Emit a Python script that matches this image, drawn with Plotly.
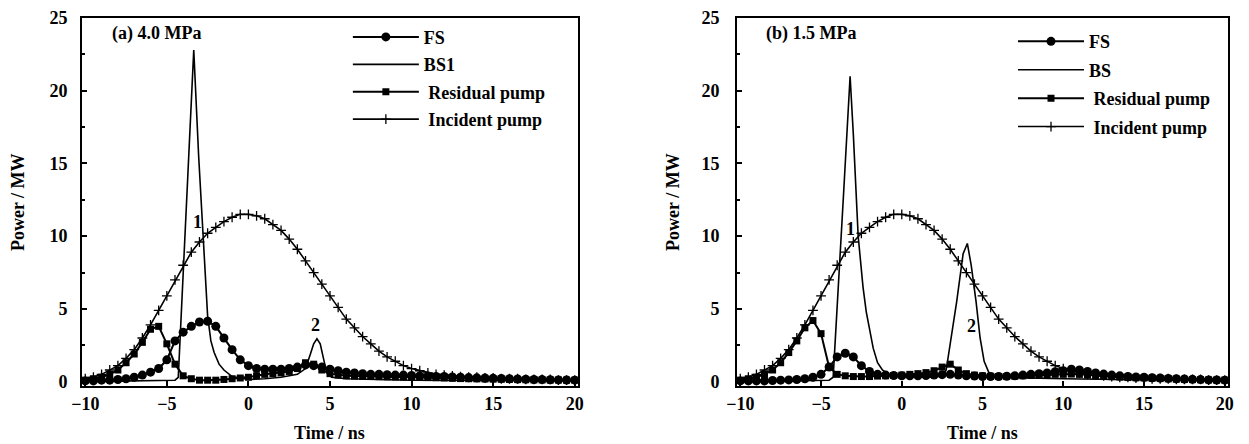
import plotly.graph_objects as go

# ---------------- data ----------------
time_grid = [k * 0.5 for k in range(-20, 41)]  # -10 ... 20 ns

incident_pump = [0.2, 0.3, 0.5, 0.8, 1.1, 1.6, 2.2, 3.0, 3.9, 4.9,
                 5.9, 7.0, 8.0, 8.9, 9.6, 10.2, 10.6, 11.0, 11.3, 11.5,
                 11.5, 11.4, 11.2, 10.8, 10.4, 9.8, 9.1, 8.3, 7.5, 6.7,
                 5.9, 5.1, 4.3, 3.7, 3.1, 2.6, 2.1, 1.7, 1.4, 1.1,
                 0.9, 0.75, 0.6, 0.5, 0.45, 0.4, 0.35, 0.3, 0.3, 0.25,
                 0.25, 0.2, 0.2, 0.2, 0.15, 0.15, 0.15, 0.15, 0.1, 0.1,
                 0.1]

fs_a = [0.05, 0.05, 0.1, 0.1, 0.15, 0.2, 0.3, 0.45, 0.65, 0.9,
        1.5, 2.8, 3.4, 3.8, 4.1, 4.15, 3.8, 3.0, 2.2, 1.5,
        1.1, 0.9, 0.85, 0.85, 0.85, 0.9, 1.0, 1.15, 1.1, 1.0,
        0.85, 0.75, 0.65, 0.6, 0.55, 0.5, 0.5, 0.48, 0.45, 0.45,
        0.42, 0.4, 0.38, 0.36, 0.35, 0.32, 0.3, 0.28, 0.26, 0.25,
        0.24, 0.22, 0.2, 0.18, 0.17, 0.15, 0.14, 0.13, 0.12, 0.11,
        0.1]

residual_a = [0.1, 0.2, 0.3, 0.5, 0.8, 1.3, 1.9, 2.7, 3.6, 3.8,
              2.6, 1.2, 0.4, 0.2, 0.1, 0.1, 0.1, 0.15, 0.2, 0.25,
              0.3, 0.4, 0.5, 0.55, 0.6, 0.7, 0.9, 1.3, 1.2, 0.8,
              0.55, 0.45, 0.4, 0.38, 0.36, 0.35, 0.34, 0.33, 0.32, 0.31,
              0.3, 0.29, 0.28, 0.27, 0.25, 0.23, 0.21, 0.2, 0.19, 0.18,
              0.17, 0.16, 0.15, 0.14, 0.13, 0.12, 0.12, 0.11, 0.11, 0.1,
              0.1]

bs_a_time = [-10, -5, -4.5, -4.3, -4.0, -3.7, -3.35, -3.05, -2.75, -2.5, -2.3, -2.1,
             -1.8, -1.5, -1.0, 0, 1, 2, 3, 3.5, 3.8, 4.0, 4.2, 4.4, 4.6, 4.8, 5.1, 6, 10, 20]
bs_a = [0.0, 0.05, 0.1, 0.3, 7.0, 14.5, 22.8, 15.5, 9.5, 4.5, 2.8, 2.0,
        1.2, 0.8, 0.35, 0.15, 0.2, 0.3, 0.5, 0.9, 1.9, 2.6, 2.95, 2.6, 1.6, 0.6, 0.3, 0.2, 0.1, 0.05]

fs_b = [0.05, 0.05, 0.05, 0.05, 0.08, 0.1, 0.12, 0.15, 0.2, 0.3,
        0.5, 1.0, 1.7, 1.95, 1.7, 1.1, 0.7, 0.5, 0.45, 0.42,
        0.4, 0.4, 0.4, 0.42, 0.45, 0.48, 0.5, 0.45, 0.4, 0.38,
        0.35, 0.35, 0.35, 0.37, 0.4, 0.45, 0.5, 0.55, 0.6, 0.68,
        0.75, 0.85, 0.8, 0.7, 0.6, 0.52, 0.45, 0.4, 0.35, 0.32,
        0.3, 0.27, 0.25, 0.22, 0.2, 0.18, 0.16, 0.14, 0.12, 0.11,
        0.1]

residual_b = [0.1, 0.2, 0.3, 0.5, 0.8, 1.3, 2.0, 2.8, 3.7, 4.2,
              3.3, 1.0, 0.5, 0.4, 0.35, 0.35, 0.35, 0.38, 0.4, 0.42,
              0.45, 0.5, 0.55, 0.62, 0.75, 1.0, 1.2, 0.8, 0.55, 0.45,
              0.4, 0.37, 0.35, 0.35, 0.37, 0.4, 0.42, 0.45, 0.48, 0.5,
              0.5, 0.52, 0.5, 0.45, 0.4, 0.37, 0.34, 0.31, 0.28, 0.26,
              0.25, 0.23, 0.21, 0.19, 0.17, 0.15, 0.14, 0.13, 0.12, 0.11,
              0.1]

bs_b_time = [-10, -5, -4.5, -4.25, -4.0, -3.6, -3.2, -3.0, -2.7, -2.4, -2.2, -2.0, -1.77,
             -1.5, -1.2, -0.8, 0, 1, 2, 2.5, 2.75, 3.0, 3.4, 3.8, 4.06, 4.3, 4.6, 4.85,
             5.1, 5.4, 6, 10, 20]
bs_b = [0.0, 0.05, 0.1, 0.3, 5.0, 13.0, 21.0, 17.0, 10.0, 6.5, 4.8, 3.5, 2.3,
        1.3, 0.8, 0.5, 0.4, 0.3, 0.3, 0.4, 0.8, 2.5, 5.5, 8.8, 9.5, 8.0, 5.5, 3.0,
        1.4, 0.6, 0.3, 0.2, 0.05]

x_ticks = [-10, -5, 0, 5, 10, 15, 20]
y_ticks = [0, 5, 10, 15, 20, 25]

FONT = "Liberation Serif"
FS_SIZE = 18
BLACK = "#000000"
TXT = dict(family=FONT, size=FS_SIZE, color=BLACK, weight="bold")

fig = go.Figure()


def add_panel(xa, ya, legend, fs, bs_t, bs, bs_name, residual):
    fig.add_trace(go.Scatter(
        x=time_grid, y=fs, name="FS", mode="lines+markers", legend=legend,
        legendgroup=legend + "fs", xaxis=xa, yaxis=ya,
        line=dict(color=BLACK, width=2),
        marker=dict(symbol="circle", size=9, color=BLACK)))
    fig.add_trace(go.Scatter(
        x=bs_t, y=bs, name=bs_name, mode="lines", legend=legend,
        legendgroup=legend + "bs", xaxis=xa, yaxis=ya,
        line=dict(color=BLACK, width=1.6)))
    fig.add_trace(go.Scatter(
        x=time_grid, y=residual, name="\u00a0Residual pump", mode="lines+markers",
        legend=legend, legendgroup=legend + "res", xaxis=xa, yaxis=ya,
        line=dict(color=BLACK, width=2),
        marker=dict(symbol="square", size=7, color=BLACK)))
    fig.add_trace(go.Scatter(
        x=time_grid, y=incident_pump, name="\u00a0Incident pump", mode="lines+markers",
        legend=legend, legendgroup=legend + "inc", xaxis=xa, yaxis=ya,
        line=dict(color=BLACK, width=1.6),
        marker=dict(symbol="cross-thin", size=7, color=BLACK,
                    line=dict(color=BLACK, width=1.3))))


add_panel("x", "y", "legend", fs_a, bs_a_time, bs_a, "BS1", residual_a)
add_panel("x2", "y2", "legend2", fs_b, bs_b_time, bs_b, "BS", residual_b)

axis_common = dict(
    showline=True, linecolor=BLACK, linewidth=2, mirror=True,
    showgrid=False, zeroline=False, automargin=False,
    ticks="inside", ticklen=5, tickcolor=BLACK, tickwidth=1.5,
    tickfont=TXT, ticklabeloverflow="allow",
)

# page has an 8px body margin; figure is sized so it fits the 1249x444 window
W, H = 1241, 436
ML, MR, MT, MB = 74, 21, 10, 58

L0, L1 = 0.0, 0.4328
R0, R1 = 0.5716, 1.0
Y_RANGE = [-0.3, 25]

fig.update_layout(
    width=W, height=H,
    margin=dict(l=ML, r=MR, t=MT, b=MB, autoexpand=False),
    paper_bgcolor="white", plot_bgcolor="white",
    font=TXT,
    xaxis=dict(domain=[L0, L1], range=[-10.2, 20.2], tickvals=x_ticks,
               ticklabelstandoff=0, **axis_common),
    yaxis=dict(domain=[0, 1], range=Y_RANGE, tickvals=y_ticks,
               minor=dict(ticks="inside", ticklen=3, dtick=2.5, tickcolor=BLACK),
               ticklabelstandoff=9, **axis_common),
    xaxis2=dict(domain=[R0, R1], range=[-10.2, 20.2], tickvals=x_ticks,
                anchor="y2", ticklabelstandoff=0, **axis_common),
    yaxis2=dict(domain=[0, 1], range=Y_RANGE, tickvals=y_ticks, anchor="x2",
                minor=dict(ticks="inside", ticklen=3, dtick=2.5, tickcolor=BLACK),
                ticklabelstandoff=12, **axis_common),
    legend=dict(x=0.232, y=0.998, xanchor="left", yanchor="top",
                bgcolor="rgba(0,0,0,0)", itemwidth=66, tracegroupgap=1,
                font=TXT),
    legend2=dict(x=0.8124, y=0.986, xanchor="left", yanchor="top",
                 bgcolor="rgba(0,0,0,0)", itemwidth=66, tracegroupgap=2,
                 font=TXT),
)

annotations = [
    dict(text="(a) 4.0 MPa", x=0.0244, y=0.958, xref="paper", yref="paper",
         xanchor="left", yanchor="middle", showarrow=False),
    dict(text="(b) 1.5 MPa", x=0.595, y=0.958, xref="paper", yref="paper",
         xanchor="left", yanchor="middle", showarrow=False),
    dict(text="1", x=-3.15, y=11.0, xref="x", yref="y", showarrow=False),
    dict(text="2", x=4.1, y=3.9, xref="x", yref="y", showarrow=False),
    dict(text="1", x=-3.2, y=10.5, xref="x2", yref="y2", showarrow=False),
    dict(text="2", x=4.3, y=3.8, xref="x2", yref="y2", showarrow=False),
    dict(text="Time / ns", x=(L0 + L1) / 2, y=-0.128, xref="paper", yref="paper",
         xanchor="center", yanchor="middle", showarrow=False),
    dict(text="Time / ns", x=(R0 + R1) / 2, y=-0.128, xref="paper", yref="paper",
         xanchor="center", yanchor="middle", showarrow=False),
    dict(text="Power / MW", x=-0.0558, y=0.5, xref="paper", yref="paper",
         xanchor="center", yanchor="middle", textangle=-90, showarrow=False),
    dict(text="Power / MW", x=0.5157, y=0.5, xref="paper", yref="paper",
         xanchor="center", yanchor="middle", textangle=-90, showarrow=False),
]
for a in annotations:
    a.setdefault("font", TXT)
fig.update_layout(annotations=annotations)

fig.write_html("out.html")
